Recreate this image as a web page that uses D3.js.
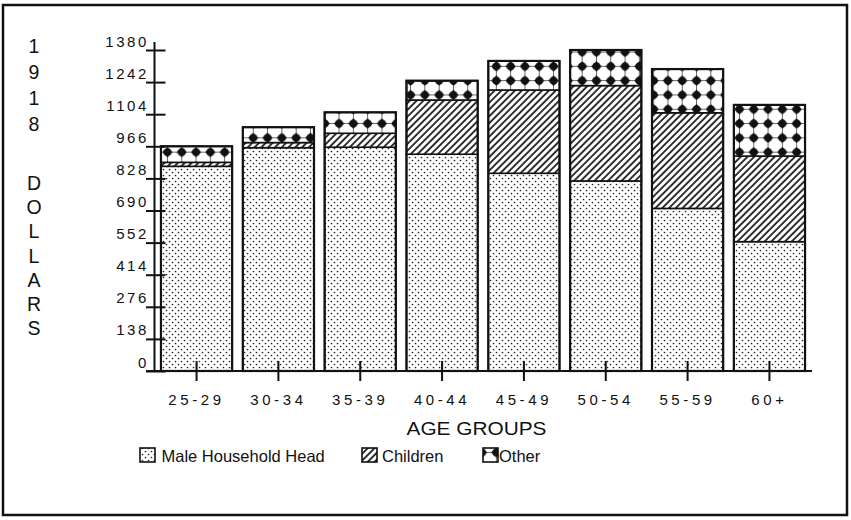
<!DOCTYPE html>
<html>
<head>
<meta charset="utf-8">
<script src="https://cdn.jsdelivr.net/npm/d3@7/dist/d3.min.js"></script>
<style>
  html, body { margin: 0; padding: 0; background: #fff; }
  svg { display: block; }
  text { font-family: "Liberation Sans", Arial, Helvetica, sans-serif; fill: #111; }
</style>
</head>
<body>
<div id="chart"></div>
<script>
// ---- data ----
const categories = ["25-29", "30-34", "35-39", "40-44", "45-49", "50-54", "55-59", "60+"];
const maleHead = [880, 960, 962, 932, 850, 817, 699, 556];
const children = [17, 22, 60, 233, 358, 410, 411, 368];
const other    = [69, 66, 90, 83, 125, 153, 188, 220];
const yTicks = [0, 138, 276, 414, 552, 690, 828, 966, 1104, 1242, 1380];
const seriesNames = ["Male Household Head", "Children", "Other"];
const yTitleYear = ["1", "9", "1", "8"];
const yTitleWord = ["D", "O", "L", "L", "A", "R", "S"];
const xTitle = "AGE GROUPS";

const W = 851, H = 520;
const svg = d3.select("#chart").append("svg").attr("width", W).attr("height", H);

// ---- patterns ----
const defs = svg.append("defs");
const pDots = defs.append("pattern").attr("id", "pDots")
  .attr("patternUnits", "userSpaceOnUse").attr("width", 6).attr("height", 6);
pDots.append("rect").attr("width", 6).attr("height", 6).attr("fill", "#fff");
pDots.append("circle").attr("cx", 1.5).attr("cy", 1.5).attr("r", 0.85).attr("fill", "#222");
pDots.append("circle").attr("cx", 4.5).attr("cy", 4.5).attr("r", 0.85).attr("fill", "#222");

const pHatch = defs.append("pattern").attr("id", "pHatch")
  .attr("patternUnits", "userSpaceOnUse").attr("width", 4.8).attr("height", 10)
  .attr("patternTransform", "rotate(45)");
pHatch.append("rect").attr("width", 4.8).attr("height", 10).attr("fill", "#fff");
pHatch.append("line").attr("x1", 1).attr("x2", 1).attr("y1", 0).attr("y2", 10)
  .attr("stroke", "#111").attr("stroke-width", 1.7);

const ds = 14.3, c = ds / 2;
const pDia = defs.append("pattern").attr("id", "pDia")
  .attr("patternUnits", "userSpaceOnUse").attr("width", ds).attr("height", ds)
  .attr("x", 3).attr("y", 2);
pDia.append("rect").attr("width", ds).attr("height", ds).attr("fill", "#fff");
pDia.append("line").attr("x1", 0).attr("x2", ds).attr("y1", c).attr("y2", c)
  .attr("stroke", "#444").attr("stroke-width", 0.8);
pDia.append("line").attr("y1", 0).attr("y2", ds).attr("x1", c).attr("x2", c)
  .attr("stroke", "#444").attr("stroke-width", 0.8);
pDia.append("path")
  .attr("d", `M${c},${c-5.2} L${c+5.2},${c} L${c},${c+5.2} L${c-5.2},${c}Z`)
  .attr("fill", "#111");
pDia.append("circle").attr("cx", c).attr("cy", c).attr("r", 3.9).attr("fill", "#111");

const fills = ["url(#pDots)", "url(#pHatch)", "url(#pDia)"];

// ---- frame ----
svg.append("rect").attr("x", 3).attr("y", 5).attr("width", 844).attr("height", 510)
  .attr("fill", "none").attr("stroke", "#111").attr("stroke-width", 2.5);

// ---- scales ----
const x = d3.scaleBand().domain(categories).range([154, 812])
  .paddingInner(0.13).paddingOuter(0.085);
const y = d3.scaleLinear().domain([0, 1380]).range([371, 50]);

// ---- stacked bars ----
const rows = categories.map((cat, i) => ({ cat: cat, male: maleHead[i], children: children[i], other: other[i] }));
const stack = d3.stack().keys(["male", "children", "other"])(rows);

const gBars = svg.append("g");
stack.forEach((layer, li) => {
  gBars.append("g").selectAll("rect").data(layer).join("rect")
    .attr("x", d => x(d.data.cat))
    .attr("width", x.bandwidth())
    .attr("y", d => y(d[1]))
    .attr("height", d => y(d[0]) - y(d[1]))
    .attr("fill", fills[li])
    .attr("stroke", "#111").attr("stroke-width", 1.6);
});
gBars.append("g").selectAll("rect").data(stack[2]).join("rect")
  .attr("x", d => x(d.data.cat))
  .attr("width", x.bandwidth())
  .attr("y", d => y(d[1]))
  .attr("height", d => y(0) - y(d[1]))
  .attr("fill", "none").attr("stroke", "#111").attr("stroke-width", 2.2);

// ---- y axis ----
const yAxis = d3.axisLeft(y).tickValues(yTicks).tickFormat(d3.format("d"))
  .tickSizeInner(-11).tickSizeOuter(0).tickPadding(0);
const gy = svg.append("g").attr("transform", "translate(154.5,0)").call(yAxis);
gy.select(".domain").remove();
gy.append("line").attr("x1", 0).attr("x2", 0).attr("y1", 42).attr("y2", y(0))
  .attr("stroke", "#111").attr("stroke-width", 2);
gy.selectAll(".tick line").attr("x1", -8.5).attr("x2", 11).attr("stroke", "#111").attr("stroke-width", 2);
gy.selectAll(".tick text")
  .attr("x", -5.5).attr("dy", 0).attr("y", -4)
  .style("font-size", "15px").style("letter-spacing", "2.6px")
  .attr("text-anchor", "end").attr("fill", "#111");

// ---- x axis ----
const xAxis = d3.axisBottom(x).tickSizeInner(0).tickSizeOuter(0).tickPadding(0);
const gx = svg.append("g").attr("transform", `translate(0,${y(0)})`).call(xAxis);
gx.select(".domain").remove();
gx.append("line").attr("x1", 146).attr("x2", 812).attr("y1", 0).attr("y2", 0)
  .attr("stroke", "#111").attr("stroke-width", 2.2);
gx.selectAll(".tick line").attr("y1", -10).attr("y2", 10).attr("stroke", "#111").attr("stroke-width", 2);
gx.selectAll(".tick text")
  .attr("y", 33.5).attr("dy", 0).attr("dx", 0)
  .style("font-size", "15px").style("letter-spacing", "3.6px")
  .attr("text-anchor", "middle").attr("fill", "#111");

// ---- x title ----
svg.append("text").attr("x", 406.5).attr("y", 435)
  .attr("textLength", 140).attr("lengthAdjust", "spacingAndGlyphs")
  .style("font-size", "19px").text(xTitle);

// ---- y title (stacked characters) ----
const yt = svg.append("g").attr("text-anchor", "middle").style("font-size", "19.5px");
yTitleYear.forEach((ch, i) => {
  yt.append("text").attr("x", 34).attr("y", 53 + i * 26).text(ch);
});
yTitleWord.forEach((ch, i) => {
  yt.append("text").attr("x", 34).attr("y", 190 + i * 24.2).text(ch);
});

// ---- legend ----
const legendPos = [{ bx: 140, tx: 161.5 }, { bx: 362, tx: 382 }, { bx: 483, tx: 499 }];
const lg = svg.append("g");
seriesNames.forEach((name, i) => {
  lg.append("rect").attr("x", legendPos[i].bx).attr("y", 448).attr("width", 15).attr("height", 14)
    .attr("fill", fills[i]).attr("stroke", "#111").attr("stroke-width", 1.6);
  lg.append("text").attr("x", legendPos[i].tx).attr("y", 461.5)
    .style("font-size", "16.5px").text(name);
});
</script>
</body>
</html>
